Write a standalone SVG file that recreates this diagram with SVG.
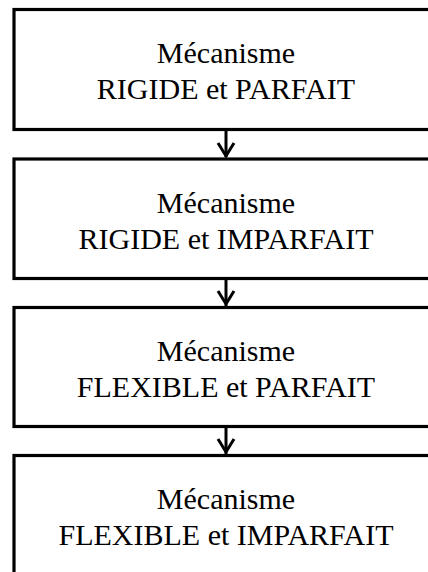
<svg xmlns="http://www.w3.org/2000/svg" width="428" height="572" viewBox="0 0 428 572">
<style>
.box{fill:#fff;stroke:#000;stroke-width:3.2}
.t{font-family:"Liberation Serif","Times New Roman",serif;font-size:30px;fill:#000;text-anchor:middle}
.c{fill:none;stroke:#000;stroke-width:3;stroke-linejoin:miter}
</style>
<rect width="428" height="572" fill="#fff"/>
<g id="connectors">
<line class="c" x1="226" y1="130" x2="226" y2="157"/>
<polyline class="c" points="218,143 226,156 234,143"/>
<line class="c" x1="226" y1="279" x2="226" y2="306"/>
<polyline class="c" points="218,291 226,304 234,291"/>
<line class="c" x1="226" y1="427" x2="226" y2="454"/>
<polyline class="c" points="218,439 226,452 234,439"/>
</g>
<g id="n1">
<rect class="box" x="14" y="9.5" width="428" height="120"/>
<text class="t" x="226" y="63">Mécanisme</text>
<text class="t" x="226" y="99">RIGIDE et PARFAIT</text>
</g>
<g id="n2">
<rect class="box" x="14" y="159" width="428" height="119.5"/>
<text class="t" x="226" y="213">Mécanisme</text>
<text class="t" x="226" y="249">RIGIDE et IMPARFAIT</text>
</g>
<g id="n3">
<rect class="box" x="14" y="307.5" width="428" height="119"/>
<text class="t" x="226" y="361">Mécanisme</text>
<text class="t" x="226" y="397">FLEXIBLE et PARFAIT</text>
</g>
<g id="n4">
<rect class="box" x="14" y="455.5" width="428" height="140"/>
<text class="t" x="226" y="509">Mécanisme</text>
<text class="t" x="226" y="545">FLEXIBLE et IMPARFAIT</text>
</g>
</svg>
